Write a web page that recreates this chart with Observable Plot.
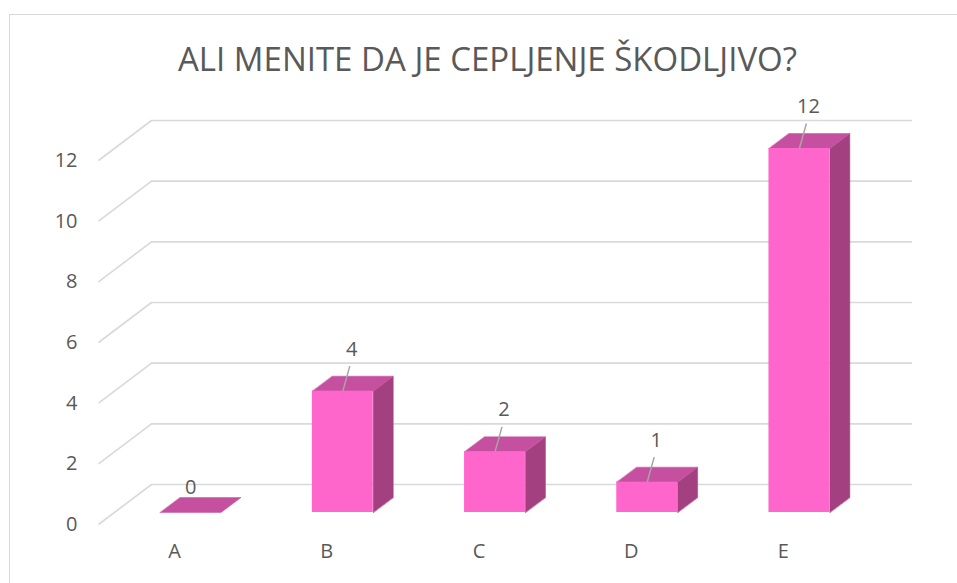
<!DOCTYPE html>
<html>
<head>
<meta charset="utf-8">
<script src="https://cdn.jsdelivr.net/npm/d3@7"></script>
<script src="https://cdn.jsdelivr.net/npm/@observablehq/plot@0.6"></script>
<style>
  html, body { margin: 0; padding: 0; background: #fff; overflow: hidden; }
  #wrap { position: relative; width: 957px; height: 583px; overflow: hidden; }
  #frame { position: absolute; left: 9px; top: 14px; width: 1200px; height: 1200px; border: 1.5px solid #d9d9d9; box-sizing: border-box; }
  #title { position: absolute; left: 0; width: 975px; top: 36px; text-align: center; font-family: "Open Sans", sans-serif; font-size: 33px; color: #595959; white-space: nowrap; }
  #chart { position: absolute; left: 0; top: 0; }
</style>
</head>
<body>
<div id="wrap">
  <div id="frame"></div>
  <div id="title">ALI MENITE DA JE CEPLJENJE ŠKODLJIVO?</div>
  <div id="chart"></div>
</div>
<script>
const categories = ["A", "B", "C", "D", "E"];
const values = [0, 4, 2, 1, 12];
const yTicks = [0, 2, 4, 6, 8, 10, 12];

// layout / style constants
const W = 957, H = 583;
const mL = 114, mR = 82, mT = 148, mB = 71;
const xDom = [-0.5, 4.5], yDom = [0, 12];
const kx = (W - mL - mR) / (xDom[1] - xDom[0]);
const ky = (H - mT - mB) / (yDom[1] - yDom[0]);
const half = 0.2;
const frontCol = "#ff66cc", topCol = "#c4509f", sideCol = "#a3407f";
const gridCol = "#d9d9d9", txtCol = "#595959";
const FS = 20;
// 3D pixel offsets converted to data units
const off = (x, y, px, py) => [x + px / kx, y - py / ky];
const BAR_D = [20, -15], BACK_D = [37, -28], FRONT_D = [-16, 12];

const rows = categories.map((c, i) => ({c, i, v: values[i]}));

const topPolys = [], sidePolys = [];
rows.forEach(r => {
  const x0 = r.i - half, x1 = r.i + half;
  const t = [[x0, r.v], [x1, r.v], off(x1, r.v, ...BAR_D), off(x0, r.v, ...BAR_D)];
  t.forEach(p => topPolys.push({z: r.c, x: p[0], y: p[1]}));
  if (r.v > 0) {
    const s = [[x1, 0], [x1, r.v], off(x1, r.v, ...BAR_D), off(x1, 0, ...BAR_D)];
    s.forEach(p => sidePolys.push({z: r.c, x: p[0], y: p[1]}));
  }
});

const diag = yTicks.map(t => {
  const a = off(xDom[0], t, ...FRONT_D), b = off(xDom[0], t, ...BACK_D);
  return {x1: a[0], y1: a[1], x2: b[0], y2: b[1]};
});
const leaders = rows.filter(r => r.v > 0).map(r => {
  const b = off(r.i, r.v, 7, -25);
  return {x1: r.i, y1: r.v, x2: b[0], y2: b[1]};
});

const plot = Plot.plot({
  width: W, height: H,
  marginLeft: mL, marginRight: mR, marginTop: mT, marginBottom: mB,
  style: {background: "transparent", overflow: "visible", fontFamily: "'Open Sans', sans-serif"},
  x: {type: "linear", domain: xDom, axis: null},
  y: {type: "linear", domain: yDom, axis: null},
  marks: [
    Plot.ruleY(yTicks, {y: d => d, x1: xDom[0], x2: xDom[1], dx: BACK_D[0], dy: BACK_D[1], stroke: gridCol, strokeWidth: 1.6}),
    Plot.link(diag, {x1: "x1", y1: "y1", x2: "x2", y2: "y2", stroke: gridCol, strokeWidth: 1.6}),
    Plot.line(sidePolys, {x: "x", y: "y", z: "z", fill: sideCol, stroke: sideCol, strokeWidth: 0.5, curve: "linear-closed"}),
    Plot.line(topPolys, {x: "x", y: "y", z: "z", fill: topCol, stroke: topCol, strokeWidth: 0.5, curve: "linear-closed"}),
    Plot.rectY(rows, {x1: d => d.i - half, x2: d => d.i + half, y1: 0, y2: "v", fill: frontCol, inset: 0}),
    Plot.axisY({ticks: yTicks, tickSize: 0, tickPadding: 0, dx: -37, dy: 12, fontSize: FS, color: txtCol, tickFormat: d => d}),
    Plot.axisX({ticks: d3.range(categories.length), tickFormat: i => categories[i], tickSize: 0, tickPadding: 0, dx: -16, dy: 31, fontSize: FS, color: txtCol}),
    Plot.link(leaders, {x1: "x1", y1: "y1", x2: "x2", y2: "y2", stroke: "#a6a6a6", strokeWidth: 1.5}),
    Plot.text(rows.filter(r => r.v > 0), {x: "i", y: "v", text: d => String(d.v), dx: 9, dy: -42, fontSize: FS, fill: txtCol}),
    Plot.text(rows.filter(r => r.v === 0), {x: "i", y: "v", text: d => String(d.v), dx: 0, dy: -25, fontSize: FS, fill: txtCol})
  ]
});
document.getElementById("chart").appendChild(plot);
</script>
</body>
</html>
